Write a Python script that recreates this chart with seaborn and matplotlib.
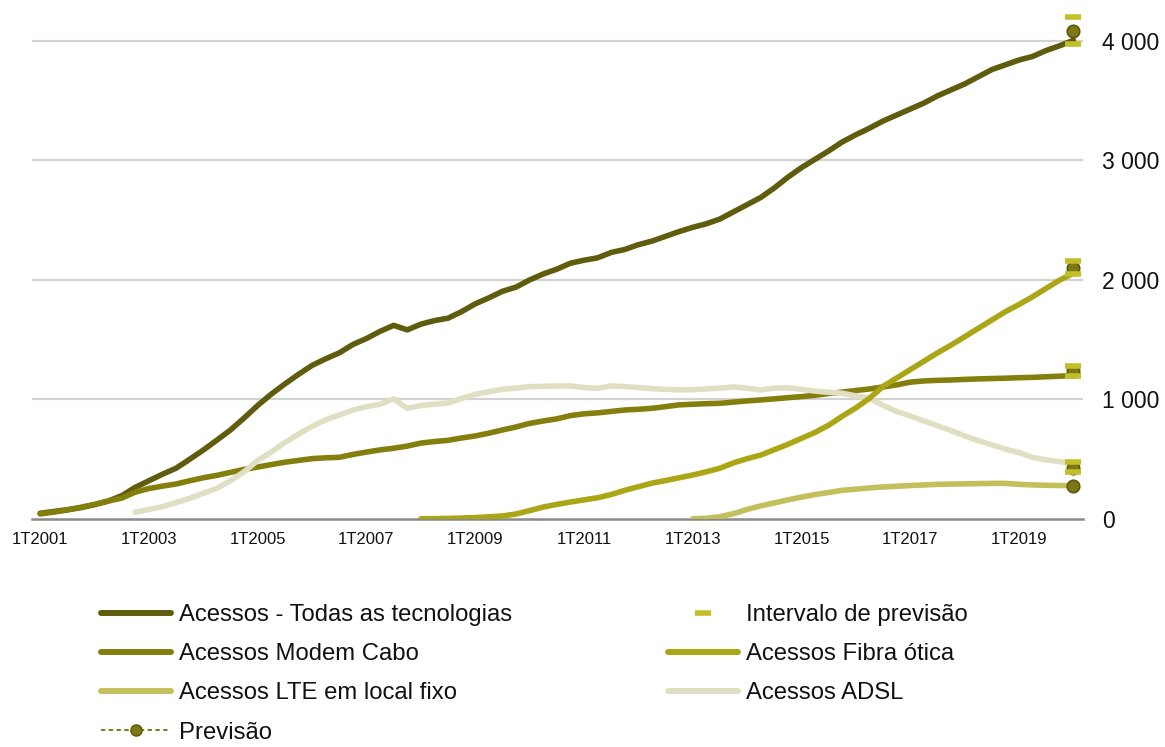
import numpy as np
import pandas as pd
import matplotlib
matplotlib.use("Agg")
import matplotlib.pyplot as plt
import seaborn as sns
from matplotlib.lines import Line2D

# ---------------- data ----------------
years = list(range(2001, 2021))
quarters = [f"{q}T{y}" for y in years for q in range(1, 5)][:77]
tick_labels = ["1T2001", "1T2003", "1T2005", "1T2007", "1T2009",
               "1T2011", "1T2013", "1T2015", "1T2017", "1T2019"]
y_ticks = [0, 1000, 2000, 3000, 4000]
y_tick_labels = ["0", "1 000", "2 000", "3 000", "4 000"]

todas = [48, 63, 78, 95, 120, 150, 195, 265, 320, 375,
         425, 500, 577, 660, 745, 845, 950, 1045, 1130, 1210,
         1285, 1340, 1390, 1460, 1510, 1570, 1620, 1582, 1630, 1660,
         1680, 1735, 1800, 1850, 1905, 1940, 2000, 2050, 2090, 2140,
         2165, 2185, 2230, 2255, 2295, 2325, 2365, 2405, 2440, 2470,
         2510, 2570, 2630, 2690, 2770, 2860, 2940, 3010, 3080, 3155,
         3215, 3270, 3330, 3380, 3430, 3480, 3540, 3590, 3640, 3700,
         3760, 3800, 3840, 3870, 3920, 3960, 4005]

cabo = [42, 58, 75, 98, 122, 150, 175, 225, 255, 275,
        293, 320, 345, 365, 390, 415, 435, 455, 475, 490,
        505, 512, 516, 540, 560, 578, 592, 610, 635, 648,
        658, 678, 695, 718, 745, 770, 800, 820, 838, 865,
        880, 888, 900, 912, 918, 926, 940, 955, 960, 965,
        968, 978, 988, 996, 1005, 1015, 1024, 1035, 1050, 1062,
        1075, 1088, 1105, 1122, 1145, 1155, 1160, 1163, 1168, 1172,
        1175, 1178, 1182, 1185, 1190, 1195, 1200]

adsl_start = "4T2002"
adsl = [56, 80, 103, 138, 173, 215, 257, 320, 395, 490,
        560, 640, 710, 775, 830, 870, 912, 940, 960, 1005,
        926, 950, 960, 970, 1010, 1043, 1065, 1085, 1095, 1107,
        1110, 1112, 1113, 1100, 1093, 1113, 1108, 1100, 1090, 1085,
        1080, 1082, 1088, 1095, 1105, 1095, 1080, 1095, 1098, 1085,
        1070, 1060, 1052, 1030, 1010, 950, 900, 862, 820, 780,
        740, 695, 655, 620, 585, 555, 515, 495, 480, 466]

fibra_start = "1T2008"
fibra = [2, 3, 5, 8, 12, 18, 25, 42, 70, 100,
         122, 142, 160, 178, 205, 240, 270, 300, 322, 345,
         368, 395, 425, 470, 505, 535, 580, 625, 675, 725,
         785, 860, 930, 1010, 1110, 1180, 1250, 1320, 1390, 1455,
         1525, 1595, 1665, 1735, 1795, 1860, 1930, 2000, 2056]

lte_start = "1T2013"
lte = [2, 6, 19, 45, 80, 110, 135, 160, 183, 205,
       222, 240, 250, 260, 268, 274, 280, 285, 290, 292,
       294, 296, 298, 298, 290, 285, 282, 280, 279]

forecast_quarter = "1T2020"
forecast_series = ["Todas", "Cabo", "LTE", "ADSL", "Fibra"]
forecast_mid = [4085, 1238, 279, 430, 2103]
forecast_low = [3975, 1200, np.nan, 390, 2053]
forecast_high = [4200, 1280, np.nan, 474, 2160]

# ---------------- build frame ----------------
qidx = {q: i for i, q in enumerate(quarters)}
df = pd.DataFrame({"t": np.arange(len(quarters)), "quarter": quarters})
df["todas"] = todas
df["cabo"] = cabo
df["adsl"] = np.nan
df.loc[qidx[adsl_start]:qidx[adsl_start] + len(adsl) - 1, "adsl"] = adsl
df["fibra"] = np.nan
df.loc[qidx[fibra_start]:qidx[fibra_start] + len(fibra) - 1, "fibra"] = fibra
df["lte"] = np.nan
df.loc[qidx[lte_start]:qidx[lte_start] + len(lte) - 1, "lte"] = lte

fc = pd.DataFrame({"series": forecast_series, "mid": forecast_mid,
                   "low": forecast_low, "high": forecast_high})
fc["t"] = qidx[forecast_quarter]

# ---------------- style ----------------
sns.set_theme(style="white")
plt.rcParams["font.family"] = ["Liberation Sans", "DejaVu Sans"]

c_todas = "#5f5c0e"
c_cabo = "#847f0d"
c_fibra = "#aaa615"
c_lte = "#c3c05b"
c_adsl = "#e0dfc4"
c_int = "#c2bf28"
c_prev = "#7c7915"

fig = plt.figure(figsize=(11.65, 7.47), dpi=100)
ax = fig.add_axes([32 / 1165, 228 / 747, 1051 / 1165, 508 / 747])

lw = 4.0
series = [("todas", c_todas, 3.0), ("cabo", c_cabo, 3.1), ("adsl", c_adsl, 3.2),
          ("lte", c_lte, 3.3), ("fibra", c_fibra, 3.4)]
for col, color, z in series:
    sub = df.dropna(subset=[col])
    sns.lineplot(data=sub, x="t", y=col, ax=ax, color=color, linewidth=lw,
                 solid_capstyle="round", solid_joinstyle="round", zorder=z,
                 legend=False)

# forecast points and intervals
sns.scatterplot(data=fc, x="t", y="mid", ax=ax, color=c_prev, s=80,
                edgecolor="#5a570c", linewidth=1.2, zorder=6, legend=False)
fci = fc.dropna(subset=["low"])
ax.plot(fci["t"], fci["low"], linestyle="none", marker="_", markersize=11,
        mew=4, color=c_int, zorder=7)
ax.plot(fci["t"], fci["high"], linestyle="none", marker="_", markersize=11,
        mew=4, color=c_int, zorder=7)

# axes
ax.set_xlim(-0.6, 76.7)
ax.set_ylim(0, 4250)
ax.set_xticks([qidx[q] for q in tick_labels])
ax.set_xticklabels(tick_labels, fontsize=12, color="#111111")
ax.set_yticks(y_ticks)
ax.set_yticklabels(y_tick_labels, fontsize=16.5, color="#111111", ha="left")
ax.yaxis.tick_right()
ax.tick_params(axis="y", length=0, pad=14)
ax.tick_params(axis="x", length=0, pad=9)
ax.set_xlabel("")
ax.set_ylabel("")
for y in y_ticks[1:]:
    ax.axhline(y, color="#d2d2d2", linewidth=1.6, zorder=1)
for s in ["top", "left", "right"]:
    ax.spines[s].set_visible(False)
ax.spines["bottom"].set_color("#8a8a8a")
ax.spines["bottom"].set_linewidth(1.8)
ax.grid(False)

# legends
def lh(color):
    return Line2D([0], [0], color=color, linewidth=4.3, solid_capstyle="round")

h1 = [lh(c_todas), lh(c_cabo), lh(c_lte),
      Line2D([0], [0], color=c_prev, linestyle="--", linewidth=1.4,
             marker="o", markersize=8, markerfacecolor=c_prev,
             markeredgecolor="#5a570c", dashes=(2.2, 1.8))]
l1 = ["Acessos - Todas as tecnologias", "Acessos Modem Cabo",
      "Acessos LTE em local fixo", "Previsão"]
h2 = [Line2D([0], [0], linestyle="none", marker="_", markersize=11, mew=4,
             color=c_int),
      lh(c_fibra), lh(c_adsl)]
l2 = ["Intervalo de previsão", "Acessos Fibra ótica", "Acessos ADSL"]

common = dict(frameon=False, fontsize=17.2, handlelength=2.95, handletextpad=0.3,
              labelspacing=0.72, borderpad=0, borderaxespad=0, loc="upper left")
leg1 = fig.legend(h1, l1, bbox_to_anchor=(101 / 1165, 1 - 604 / 747), **common)
leg2 = fig.legend(h2, l2, bbox_to_anchor=(668 / 1165, 1 - 604 / 747), **common)
for leg in (leg1, leg2):
    for t in leg.get_texts():
        t.set_color("#111111")

fig.savefig("out.png", dpi=100)
